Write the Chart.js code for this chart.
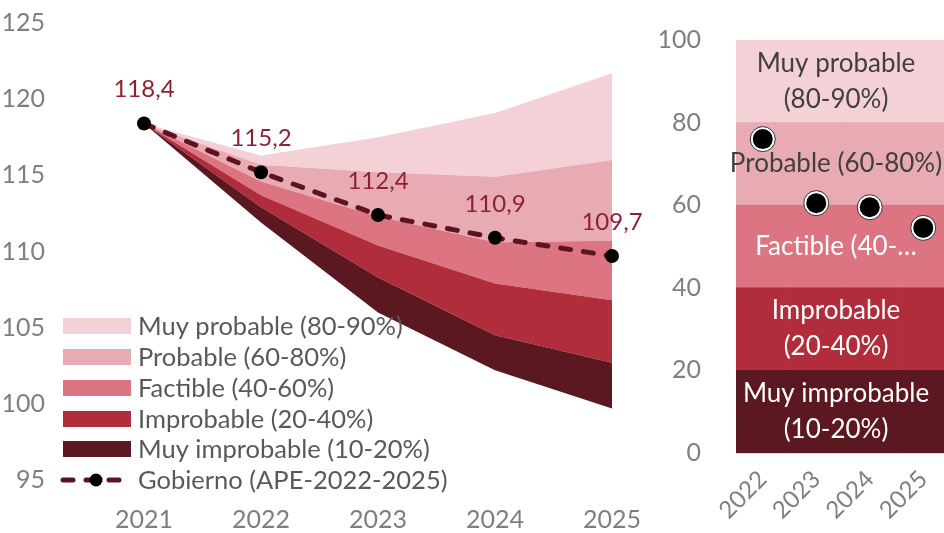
<!DOCTYPE html>
<html>
<head>
<meta charset="utf-8">
<script src="https://cdn.jsdelivr.net/npm/chart.js@4/dist/chart.umd.min.js"></script>
<style>
  html, body { margin: 0; padding: 0; background: #ffffff; overflow: hidden; }
  body { width: 944px; height: 533px; position: relative; }
  #fanWrap { position: absolute; left: 0; top: 0; width: 665px; height: 533px; }
  #probWrap { position: absolute; left: 660px; top: 0; width: 290px; height: 533px; }
</style>
</head>
<body>
<div id="fanWrap"><canvas id="fan" width="665" height="533"></canvas></div>
<div id="probWrap"><canvas id="prob" width="290" height="533"></canvas></div>
<script>
// ---- Fan chart: projected debt path with probability bands ----
const years = ['2021', '2022', '2023', '2024', '2025'];
const bandLower        = [118.4, 111.9, 106.0, 102.2,  99.7];
const muyImprobableTop = [118.4, 112.9, 108.3, 104.5, 102.7];
const improbableTop    = [118.4, 113.7, 110.4, 107.9, 106.8];
const factibleTop      = [118.4, 114.6, 112.3, 110.6, 110.7];
const probableTop      = [118.4, 115.7, 115.2, 114.9, 116.0];
const muyProbableTop   = [118.4, 116.3, 117.5, 119.1, 121.7];
const gobierno         = [118.4, 115.2, 112.4, 110.9, 109.7];
const fanTicks = [95, 100, 105, 110, 115, 120, 125];

// ---- Probability of the government path, by year ----
const probYears = ['2022', '2023', '2024', '2025'];
const muyImprobableBand = [20, 20, 20, 20];
const improbableBand    = [20, 20, 20, 20];
const factibleBand      = [20, 20, 20, 20];
const probableBand      = [20, 20, 20, 20];
const muyProbableBand   = [20, 20, 20, 20];
const gobiernoProb      = [76, 60.5, 59.5, 54.5];
const probTicks = [0, 20, 40, 60, 80, 100];

const legendNames = [
  'Muy probable (80-90%)',
  'Probable (60-80%)',
  'Factible (40-60%)',
  'Improbable (20-40%)',
  'Muy improbable (10-20%)',
  'Gobierno (APE-2022-2025)'
];
const bandText = [
  ['Muy improbable', '(10-20%)'],
  ['Improbable', '(20-40%)'],
  ['Factible (40-\u2026'],
  ['Probable (60-80%)'],
  ['Muy probable', '(80-90%)']
];

const C = {
  muyProbable: '#f4d1d6',
  probable: '#e9abb3',
  factible: '#dc7581',
  improbable: '#b22d3b',
  muyImprobable: '#5b1820',
  line: '#5c1520',
  label: '#8d2131',
  tick: '#7f7f7f',
  legend: '#595959',
  darkText: '#404040'
};
const FONT = "Lato, 'Open Sans', 'DejaVu Sans', sans-serif";

function band(label, data, color) {
  return {
    type: 'line', label: label, data: data,
    fill: '-1', backgroundColor: color, borderWidth: 0, borderColor: color,
    pointRadius: 0, tension: 0, order: 5
  };
}

// Value labels above the government path + legend inside the plot
const fanDecor = {
  id: 'fanDecor',
  afterDatasetsDraw(chart) {
    const ctx = chart.ctx;
    const meta = chart.getDatasetMeta(6);
    ctx.save();
    ctx.font = '24px ' + FONT;
    ctx.fillStyle = C.label;
    ctx.textAlign = 'center';
    ctx.textBaseline = 'middle';
    meta.data.forEach((pt, i) => {
      ctx.fillText(gobierno[i].toFixed(1).replace('.', ','), pt.x, pt.y - 34);
    });

    // legend
    const swatches = [C.muyProbable, C.probable, C.factible, C.improbable, C.muyImprobable];
    const rowY = [326, 357, 388, 419, 449, 480];
    ctx.font = '25.5px ' + FONT;
    ctx.textAlign = 'left';
    legendNames.forEach((name, i) => {
      const y = rowY[i];
      if (i < 5) {
        ctx.fillStyle = swatches[i];
        ctx.fillRect(63, y - 8, 68, 16);
      } else {
        ctx.strokeStyle = C.line;
        ctx.lineWidth = 5;
        ctx.lineCap = 'round';
        ctx.setLineDash([10, 13]);
        ctx.beginPath();
        ctx.moveTo(63, y);
        ctx.lineTo(128, y);
        ctx.stroke();
        ctx.setLineDash([]);
        ctx.fillStyle = '#000000';
        ctx.beginPath();
        ctx.arc(96, y, 6.5, 0, Math.PI * 2);
        ctx.fill();
      }
      ctx.fillStyle = C.legend;
      ctx.fillText(name, 138, y + 1);
    });
    ctx.restore();
  }
};

new Chart(document.getElementById('fan'), {
  data: {
    labels: years,
    datasets: [
      { type: 'line', label: 'base', data: bandLower, borderWidth: 0, pointRadius: 0, fill: false, order: 5 },
      band(legendNames[4], muyImprobableTop, C.muyImprobable),
      band(legendNames[3], improbableTop, C.improbable),
      band(legendNames[2], factibleTop, C.factible),
      band(legendNames[1], probableTop, C.probable),
      band(legendNames[0], muyProbableTop, C.muyProbable),
      {
        type: 'line', label: legendNames[5], data: gobierno,
        borderColor: C.line, borderWidth: 5, borderDash: [10, 13], borderCapStyle: 'round',
        pointRadius: 7, pointBackgroundColor: '#000000', pointBorderWidth: 0,
        fill: false, tension: 0, clip: false, order: 1
      }
    ]
  },
  options: {
    responsive: false,
    animation: false,
    devicePixelRatio: 1,
    layout: { padding: { top: 23, right: 53, left: 0, bottom: 0 } },
    plugins: { legend: { display: false }, tooltip: { enabled: false } },
    scales: {
      x: {
        type: 'category', offset: false,
        grid: { display: false }, border: { display: false },
        ticks: { color: C.tick, font: { family: FONT, size: 25 }, padding: 17, maxRotation: 0 },
        afterFit(s) { s.height = 53; s.paddingLeft = 0; s.paddingRight = 0; }
      },
      y: {
        min: 95, max: 125,
        grid: { display: false }, border: { display: false },
        afterBuildTicks(s) { s.ticks = fanTicks.map(v => ({ value: v })); },
        ticks: { color: C.tick, font: { family: FONT, size: 25 }, padding: 91 },
        afterFit(s) { s.width = 144; s.paddingTop = 0; s.paddingBottom = 0; }
      }
    }
  },
  plugins: [fanDecor]
});

// ---- Right panel ----
const probDecor = {
  id: 'probDecor',
  afterDatasetsDraw(chart) {
    const ctx = chart.ctx;
    const ys = chart.scales.y;
    const cx = 176;
    ctx.save();
    ctx.font = '26px ' + FONT;
    ctx.textAlign = 'center';
    ctx.textBaseline = 'middle';
    bandText.forEach((lines, i) => {
      const mid = ys.getPixelForValue(i * 20 + 10);
      ctx.fillStyle = i >= 3 ? C.darkText : '#ffffff';
      const start = mid - (lines.length - 1) * 18;
      lines.forEach((t, k) => ctx.fillText(t, cx, start + k * 36));
    });
    ctx.restore();
  },
  afterDraw(chart) {
    // dots drawn last so they sit above the band captions
    const ctx = chart.ctx;
    const meta = chart.getDatasetMeta(5);
    ctx.save();
    meta.data.forEach(pt => {
      ctx.beginPath();
      ctx.arc(pt.x, pt.y, 12.5, 0, Math.PI * 2);
      ctx.fillStyle = '#ffffff';
      ctx.fill();
      ctx.lineWidth = 1;
      ctx.strokeStyle = '#333333';
      ctx.stroke();
      ctx.beginPath();
      ctx.arc(pt.x, pt.y, 10, 0, Math.PI * 2);
      ctx.fillStyle = '#000000';
      ctx.fill();
    });
    ctx.restore();
  }
};

function probBar(label, data, color) {
  return {
    type: 'bar', label: label, data: data, backgroundColor: color,
    barPercentage: 1, categoryPercentage: 1, borderWidth: 0, stack: 'bands', order: 10
  };
}

new Chart(document.getElementById('prob'), {
  data: {
    labels: probYears,
    datasets: [
      probBar(legendNames[4], muyImprobableBand, C.muyImprobable),
      probBar(legendNames[3], improbableBand, C.improbable),
      probBar(legendNames[2], factibleBand, C.factible),
      probBar(legendNames[1], probableBand, C.probable),
      probBar(legendNames[0], muyProbableBand, C.muyProbable),
      {
        type: 'line', label: legendNames[5], data: gobiernoProb, showLine: false,
        pointRadius: 0, stack: 'dots', order: 1, clip: false
      }
    ]
  },
  options: {
    responsive: false,
    animation: false,
    devicePixelRatio: 1,
    layout: { padding: { top: 40, right: 0, left: 0, bottom: 0 } },
    plugins: { legend: { display: false }, tooltip: { enabled: false } },
    scales: {
      x: {
        stacked: true,
        grid: { display: false },
        border: { display: true, color: '#d9d9d9', width: 1 },
        ticks: { color: C.tick, font: { family: FONT, size: 24 }, minRotation: 45, maxRotation: 45, padding: 4 },
        afterFit(s) { s.height = 80; s.paddingLeft = 0; s.paddingRight = 0; }
      },
      y: {
        stacked: true, min: 0, max: 100,
        grid: { display: false }, border: { display: false },
        afterBuildTicks(s) { s.ticks = probTicks.map(v => ({ value: v })); },
        ticks: { color: C.tick, font: { family: FONT, size: 25 }, padding: 27 },
        afterFit(s) { s.width = 76; s.paddingTop = 0; s.paddingBottom = 0; }
      }
    }
  },
  plugins: [probDecor]
});
</script>
</body>
</html>
